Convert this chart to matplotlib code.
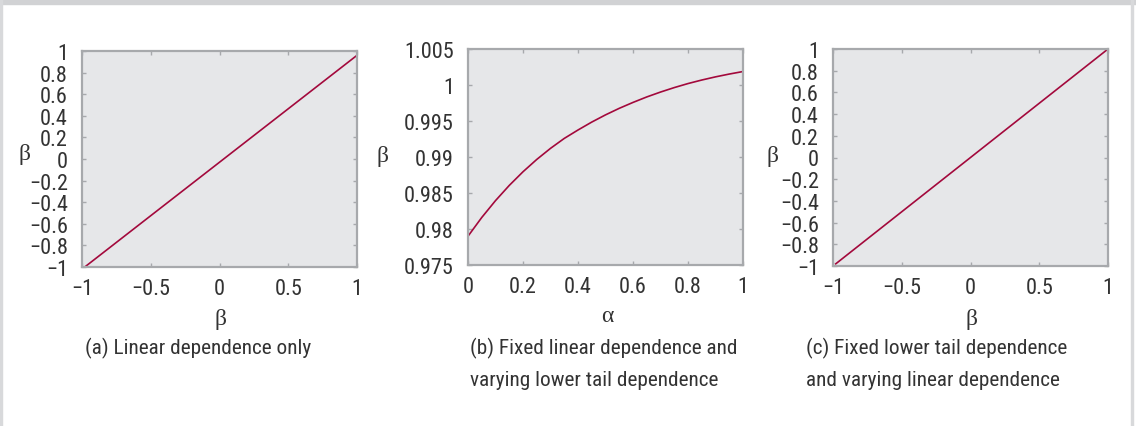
import numpy as np
import matplotlib
matplotlib.use('Agg')
import matplotlib.pyplot as plt
from matplotlib.patches import Rectangle

# data
beta_x = [-0.98, 1.0]
beta_a = [-1.0, 0.96]
beta_c = [-0.98, 1.0]

alpha = [0.0, 0.05, 0.1, 0.15, 0.2, 0.25, 0.3, 0.35, 0.4, 0.45, 0.5,
         0.55, 0.6, 0.65, 0.7, 0.75, 0.8, 0.85, 0.9, 0.95, 1.0]
beta_b = [0.97900, 0.98160, 0.98394, 0.98605, 0.98795, 0.98966, 0.99120,
          0.99258, 0.99375, 0.99485, 0.99585, 0.99676, 0.99758, 0.99834,
          0.99902, 0.99964, 1.00020, 1.00069, 1.00113, 1.00152, 1.00187]

ticks_pm1 = [-1, -0.8, -0.6, -0.4, -0.2, 0, 0.2, 0.4, 0.6, 0.8, 1]
ticks_half = [-1, -0.5, 0, 0.5, 1]
ticks_alpha = [0, 0.2, 0.4, 0.6, 0.8, 1]
ticks_b = [0.975, 0.98, 0.985, 0.99, 0.995, 1.0, 1.005]

captions = [['(a) Linear dependence only'],
            ['(b) Fixed linear dependence and', 'varying lower tail dependence'],
            ['(c) Fixed lower tail dependence', 'and varying linear dependence']]

sans = ['Roboto Condensed', 'PT Sans Narrow', 'Liberation Sans', 'DejaVu Sans']
serif = ['Liberation Serif', 'DejaVu Serif']
plt.rcParams['font.family'] = sans

line_col = '#a3093c'
face_col = '#e6e7e9'
spine_col = '#a7a9ac'
text_col = '#333333'

W, H = 1136, 427
fig = plt.figure(figsize=(W / 100, H / 100), dpi=100)


def box(l, t, r, b):
    return [l / W, 1 - b / H, (r - l) / W, (b - t) / H]


def lab(v):
    s = '%g' % v
    return s.replace('-', '\u2212')


def style(ax, xt, yt):
    ax.set_facecolor(face_col)
    for s in ax.spines.values():
        s.set_color(spine_col)
        s.set_linewidth(1.6)
    ax.set_xticks(xt)
    ax.set_yticks(yt)
    ax.set_xticklabels([lab(v) for v in xt])
    ax.set_yticklabels([lab(v) for v in yt])
    ax.tick_params(direction='in', length=3, width=1, color=spine_col,
                   top=True, right=True, labelsize=16, labelcolor=text_col)
    ax.tick_params(axis='y', pad=10)
    ax.tick_params(axis='x', pad=8)


ax1 = fig.add_axes(box(82, 52, 357, 268))
ax1.plot(beta_x, beta_a, color=line_col, lw=1.2)
ax1.set_xlim(-1, 1)
ax1.set_ylim(-1, 1)
style(ax1, ticks_half, ticks_pm1)

ax2 = fig.add_axes(box(468, 50, 743, 266))
ax2.plot(alpha, beta_b, color=line_col, lw=1.2)
ax2.set_xlim(0, 1)
ax2.set_ylim(0.975, 1.005)
style(ax2, ticks_alpha, ticks_b)

ax3 = fig.add_axes(box(833, 50, 1108, 267))
ax3.plot(beta_x, beta_c, color=line_col, lw=1.2)
ax3.set_xlim(-1, 1)
ax3.set_ylim(-1, 1)
style(ax3, ticks_half, ticks_pm1)

# axis labels
for x, y, s in [(24, 155, '\u03b2'), (382, 157, '\u03b2'), (772, 157, '\u03b2'),
                (220, 320, '\u03b2'), (607, 316, '\u03b1'), (971, 320, '\u03b2')]:
    fig.text(x / W, 1 - y / H, s, family=serif, fontsize=17,
             color=text_col, ha='center', va='center')

# captions
for x, lines in zip([85, 470, 806], captions):
    for i, c in enumerate(lines):
        fig.text(x / W, 1 - (348 + 33 * i) / H, c, fontsize=15.3, color=text_col,
                 ha='left', va='center')

# page frame
fig.patches.append(Rectangle((0, 1 - 5 / H), 1, 5 / H, transform=fig.transFigure,
                             color='#d1d2d4', zorder=0))
fig.patches.append(Rectangle((0, 0), 2 / W, 1, transform=fig.transFigure,
                             color='#d8d9db', zorder=0))
fig.patches.append(Rectangle((1131 / W, 0), 2 / W, 1, transform=fig.transFigure,
                             color='#d8d9db', zorder=0))

fig.savefig('out.png', dpi=100)
